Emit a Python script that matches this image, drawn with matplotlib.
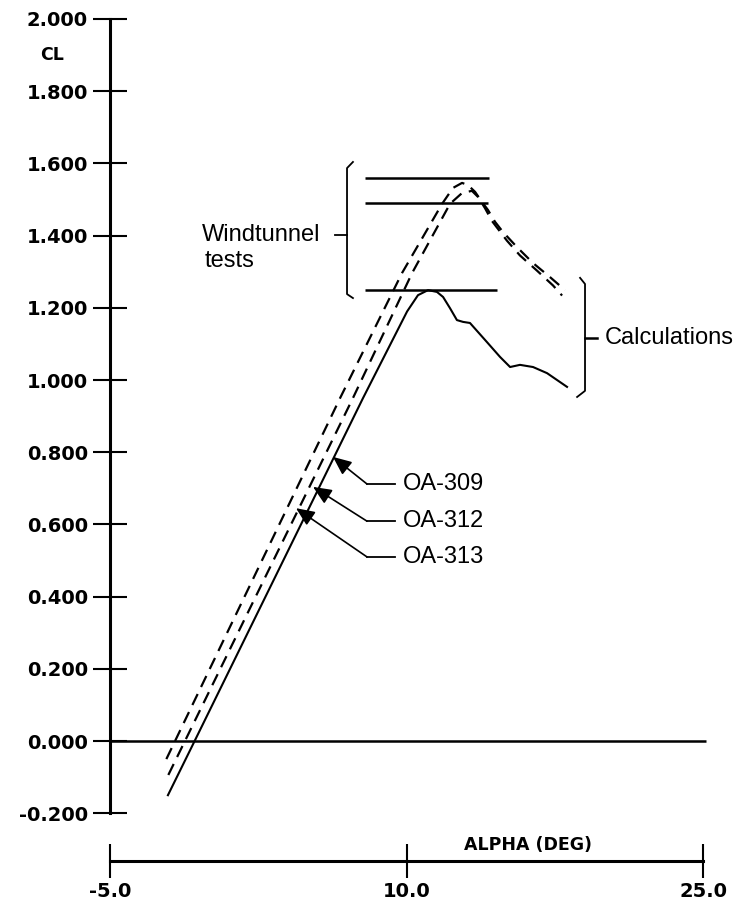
import matplotlib
matplotlib.use("Agg")
import matplotlib.pyplot as plt
import numpy as np

# CL vs alpha curves
alpha_309 = [-2.15, -1.71, 6.64, 9.77, 11.80, 12.35, 12.81, 13.11, 13.47, 13.82, 14.12, 14.48, 14.88, 15.59, 16.40, 17.26, 18.02]
cl_309 = [-0.05, 0.0, 0.950, 1.296, 1.488, 1.532, 1.546, 1.540, 1.521, 1.493, 1.471, 1.438, 1.410, 1.368, 1.324, 1.285, 1.249]

alpha_312 = [-2.05, -1.21, 7.29, 10.28, 12.20, 12.81, 13.31, 13.62, 13.97, 14.33, 15.08, 15.74, 16.60, 17.41, 17.87]
cl_312 = [-0.094, 0.0, 0.950, 1.296, 1.488, 1.518, 1.524, 1.507, 1.476, 1.440, 1.386, 1.345, 1.303, 1.262, 1.234]

alpha_313 = [-2.07, -0.72, 7.80, 10.03, 10.58, 11.09, 11.54, 11.85, 12.20, 12.55, 12.86, 13.21, 14.07, 14.73, 15.24, 15.74, 16.40, 17.11, 18.12]
cl_313 = [-0.150, 0.0, 0.950, 1.190, 1.235, 1.249, 1.244, 1.230, 1.199, 1.166, 1.161, 1.158, 1.105, 1.064, 1.036, 1.042, 1.036, 1.019, 0.981]

# windtunnel max CL lines
wt_cl = [1.56, 1.49, 1.25]
wt_start = 7.90
wt_end = [14.17, 14.12, 14.58]

yticks = [-0.2, 0.0, 0.2, 0.4, 0.6, 0.8, 1.0, 1.2, 1.4, 1.6, 1.8, 2.0]
xticks = [-5.0, 10.0, 25.0]

# labels and where their arrows point
oa_names = ["OA-309", "OA-312", "OA-313"]
oa_label_cl = [0.712, 0.609, 0.510]
oa_tip_alpha = [6.28, 5.27, 4.41]
oa_tip_cl = [0.787, 0.704, 0.645]

tick_font = dict(family="DejaVu Sans", weight="bold", size=14)
note_font = dict(family="Liberation Sans", size=17)

fig = plt.figure(figsize=(7.39, 9.10), dpi=100)
ax = fig.add_axes([0, 0, 1, 1])
ax.set_xlim(-10.565, 26.82)
ax.set_ylim(-0.468, 2.0526)

# axes styled like the old plotter output
for s in ["top", "right"]:
    ax.spines[s].set_visible(False)
ax.spines["left"].set_position(("data", -5.0))
ax.spines["left"].set_bounds(-0.2, 2.0)
ax.spines["bottom"].set_position(("data", -0.332))
ax.spines["bottom"].set_bounds(-5.0, 25.0)
for s in ["left", "bottom"]:
    ax.spines[s].set_linewidth(2.2)

ax.set_yticks(yticks)
ax.set_yticklabels([f"{v:.3f}" for v in yticks], fontdict=tick_font)
ax.set_xticks(xticks)
ax.set_xticklabels([f"{v:.1f}" for v in xticks], fontdict=tick_font)
ax.tick_params(axis="y", direction="inout", length=24, width=1.5, pad=4)
ax.tick_params(axis="x", direction="inout", length=24, width=1.5, pad=3)

ax.text(-7.93, 1.90, "CL", ha="center", va="center", family="DejaVu Sans", weight="bold", size=12.5)
ax.text(16.17, -0.288, "ALPHA (DEG)", ha="center", va="center", family="DejaVu Sans", weight="bold", size=12.5)

# zero line
ax.hlines(0.0, -5.0, 25.15, color="black", lw=1.8)

# curves
ax.plot(alpha_309, cl_309, color="black", lw=1.6, ls=(0, (5.5, 3.5)))
ax.plot(alpha_312, cl_312, color="black", lw=1.6, ls=(0, (5.5, 3.5)))
ax.plot(alpha_313, cl_313, color="black", lw=1.5)

# windtunnel results
for c, e in zip(wt_cl, wt_end):
    ax.hlines(c, wt_start, e, color="black", lw=1.8)

# brackets
ax.plot([7.29, 6.99, 6.99, 7.29], [1.604, 1.587, 1.238, 1.227], color="black", lw=1.3)
ax.plot([6.38, 6.99], [1.402, 1.402], color="black", lw=1.3)
ax.text(-0.35, 1.402, "Windtunnel", ha="left", va="center", **note_font)
ax.text(-0.20, 1.330, "tests", ha="left", va="center", **note_font)

ax.plot([18.78, 19.03, 19.03, 18.63], [1.283, 1.266, 0.970, 0.953], color="black", lw=1.3)
ax.plot([19.03, 19.64], [1.116, 1.116], color="black", lw=1.8)
ax.text(20.04, 1.116, "Calculations", ha="left", va="center", **note_font)

# leaders to the curves
for name, lc, ta, tc in zip(oa_names, oa_label_cl, oa_tip_alpha, oa_tip_cl):
    ax.plot([8.00, 9.42], [lc, lc], color="black", lw=1.3)
    ax.annotate("", xy=(ta, tc), xytext=(8.00, lc),
                arrowprops=dict(arrowstyle="-|>,head_length=0.8,head_width=0.35", color="black", lw=1.2,
                                mutation_scale=14, shrinkA=0, shrinkB=0))
    ax.text(9.82, lc, name, ha="left", va="center", **note_font)

fig.savefig("out.png", dpi=100, facecolor="white")
